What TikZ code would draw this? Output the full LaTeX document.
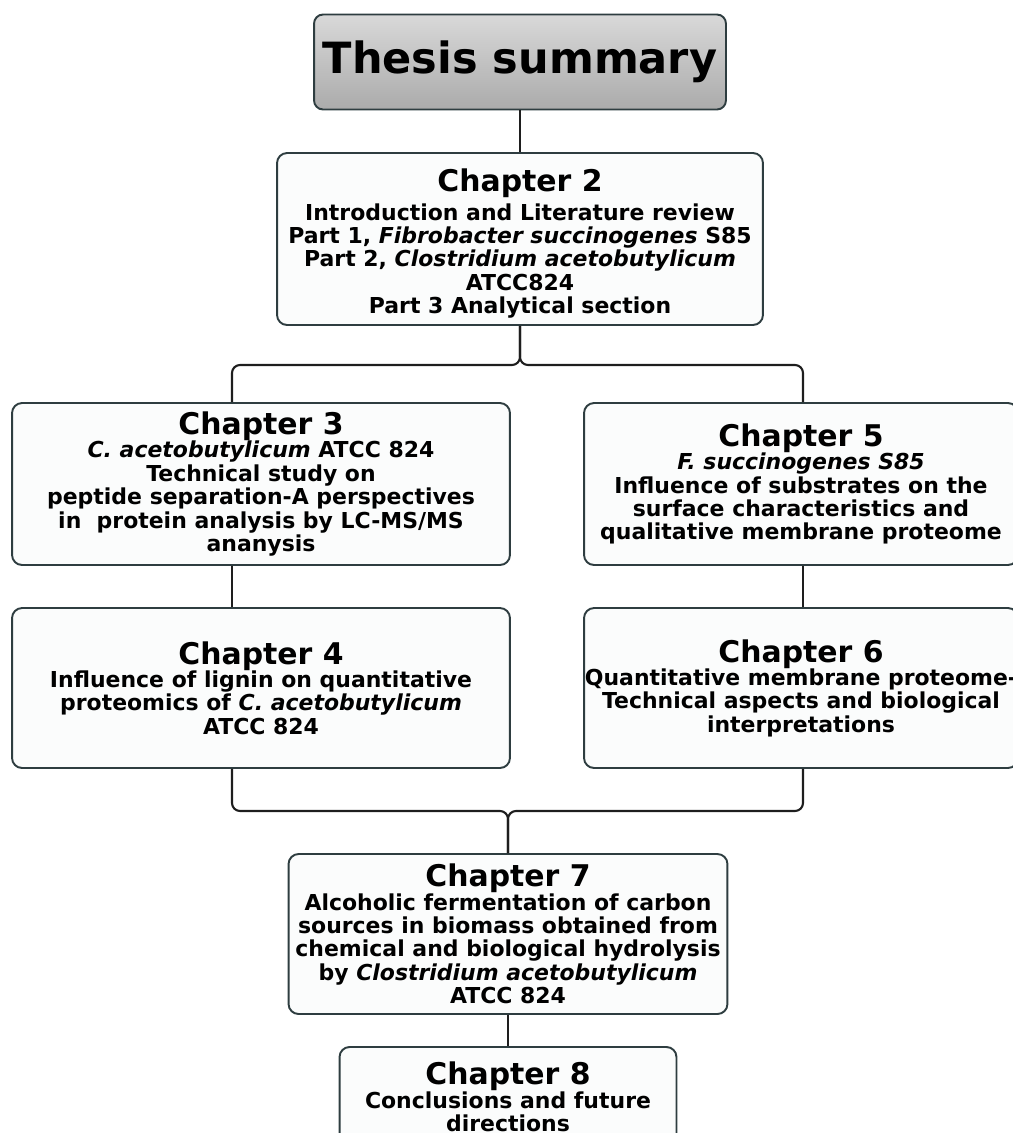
\documentclass[tikz,border=0pt]{standalone}
\usepackage{fontspec}
\setmainfont{DejaVu Sans}
\usepackage{tikz}
\usetikzlibrary{positioning, calc}
\usepackage{xcolor}
\definecolor{boxline}{HTML}{2E3D40}
\definecolor{linkcol}{HTML}{1E1E1E}
\definecolor{boxfill}{HTML}{FBFCFC}
\tikzstyle{link} = [line width=1.2pt, color=linkcol, rounded corners=0.16cm]
\newcommand{\chaphead}[1]{{\fontsize{17}{20}\selectfont #1}}

\begin{document}
\begin{tikzpicture}[
    x=0.02cm, y=-0.02cm,
    chapbox/.style={rectangle, rounded corners=0.2cm, draw=boxline, fill=boxfill,
                    line width=1.1pt, align=center, inner xsep=0pt, inner ysep=2pt,
                    font=\fontsize{12.5}{13.3}\selectfont\bfseries},
    titlebox/.style={rectangle, rounded corners=0.18cm, draw=boxline, line width=1.1pt,
                     top color=gray!30, bottom color=gray!66,
                     font=\fontsize{24.5}{28}\selectfont\bfseries}
]
    \useasboundingbox (0,0) rectangle (1012,1133);

    % Row 0: title
    \node[titlebox, minimum width=8.24cm, minimum height=1.9cm] (title) at (520,62) {Thesis summary};

    % Row 1: literature review
    \node[chapbox, minimum width=9.72cm, minimum height=3.44cm] (ch2) at (520,239)
        {\chaphead{\rule{0pt}{18pt}Chapter 2}\\[3pt] Introduction and Literature review\\
         Part 1, \textit{Fibrobacter succinogenes} S85\\
         Part 2, \textit{Clostridium acetobutylicum}\\ ATCC824\\ Part 3 Analytical section};

    % Row 2: C. acetobutylicum left, F. succinogenes right
    \node[chapbox, minimum width=9.96cm, minimum height=3.24cm] (ch3) at (261,484)
        {\chaphead{Chapter 3}\\ \textit{C. acetobutylicum} ATCC 824\\ Technical study on\\
         peptide separation-A perspectives\\ in\ \ protein analysis by LC-MS/MS\\ ananysis};
    \node[chapbox, minimum width=8.68cm, minimum height=3.24cm] (ch5) at (801,484)
        {\chaphead{Chapter 5}\\ \textit{F. succinogenes S85}\\ Influence of substrates on the\\
         surface characteristics and\\ qualitative membrane proteome};

    % Row 3
    \node[chapbox, minimum width=9.96cm, minimum height=3.2cm] (ch4) at (261,688)
        {\chaphead{Chapter 4}\\ Influence of lignin on quantitative\\
         proteomics of \textit{C. acetobutylicum}\\ ATCC 824};
    \node[chapbox, minimum width=8.68cm, minimum height=3.2cm] (ch6) at (801,688)
        {\chaphead{Chapter 6}\\ Quantitative membrane proteome-\\
         Technical aspects and biological\\ interpretations};

    % Row 4: fermentation
    \node[chapbox, minimum width=8.78cm, minimum height=3.2cm] (ch7) at (508,934)
        {\chaphead{Chapter 7}\\ Alcoholic fermentation of carbon\\ sources in biomass obtained from\\
         chemical and biological hydrolysis\\ by \textit{Clostridium acetobutylicum}\\ ATCC 824};

    % Row 5: conclusions
    \node[chapbox, minimum width=6.74cm, minimum height=2cm] (ch8) at (508,1097)
        {\chaphead{Chapter 8}\\ Conclusions and future\\ directions};

    % Bracket points
    \coordinate (leftleg) at (232,0);
    \coordinate (rightleg) at (803,0);
    \coordinate (split) at (520,365);
    \coordinate (merge) at (508,811);

    % Links
    \draw[link] (title.south) -- (ch2.north);
    \draw[link] (ch3.north -| leftleg) |- (split) -- (ch2.south);
    \draw[link] (ch5.north -| rightleg) |- (split) -- (ch2.south);
    \draw[link] (ch3.south -| leftleg) -- (ch4.north -| leftleg);
    \draw[link] (ch5.south -| rightleg) -- (ch6.north -| rightleg);
    \draw[link] (ch4.south -| leftleg) |- (merge) -- (ch7.north);
    \draw[link] (ch6.south -| rightleg) |- (merge) -- (ch7.north);
    \draw[link] (ch7) -- (ch8);

\end{tikzpicture}
\end{document}
